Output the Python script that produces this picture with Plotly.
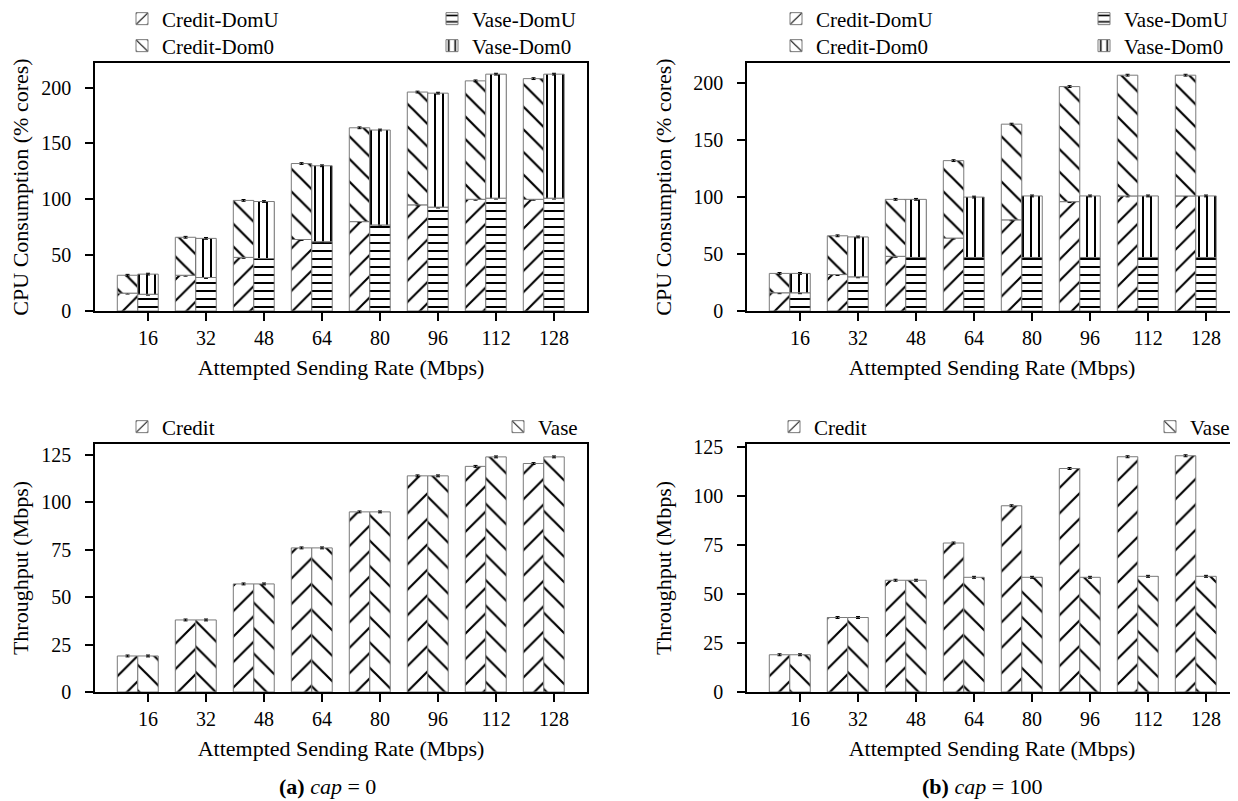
import plotly.graph_objects as go

W, H = 1238, 801
PAGE_OFF = 8  # the browser page adds an 8 px body margin around the figure

rates = ["16", "32", "48", "64", "80", "96", "112", "128"]

# (a) cap = 0 : CPU consumption (% cores)
cpu0_credit_domu = [16, 32, 48, 64, 80, 95, 100, 100]
cpu0_credit_dom0 = [16, 34, 51, 68, 84, 101, 106, 108]
cpu0_vase_domu = [15, 30, 47, 62, 77, 93, 101, 101]
cpu0_vase_dom0 = [18, 35, 51, 68, 85, 102, 111, 111]

# (b) cap = 100 : CPU consumption (% cores)
cpu100_credit_domu = [16, 32, 48, 64, 80, 96, 101, 101]
cpu100_credit_dom0 = [17, 34, 50, 68, 84, 101, 106, 106]
cpu100_vase_domu = [16, 30, 47, 47, 47, 47, 47, 47]
cpu100_vase_dom0 = [17, 35, 51, 53, 54, 54, 54, 54]

# Throughput (Mbps)
thr0_credit = [19, 38, 57, 76, 95, 114, 119, 120.5]
thr0_vase = [19, 38, 57, 76, 95, 114, 124, 124]
thr100_credit = [19, 38, 57, 76, 95, 114, 120, 120.5]
thr100_vase = [19, 38, 57, 58.5, 58.5, 58.5, 59, 59]

cpu_err = [0.8] * 8
thr_err = [0.5] * 8

cpu_ticks = [0, 50, 100, 150, 200]
thr_ticks = [0, 25, 50, 75, 100, 125]

FONT = "Liberation Serif"
FS = 20      # tick labels
FT = 22      # axis titles / captions
FL = 21      # legend


def px_x(p):
    return (p - PAGE_OFF) / W


def px_y(p):
    return 1 - (p - PAGE_OFF) / H


BW = 0.353  # bar width in category units
OFF_CREDIT = -1.5 * BW
OFF_VASE = -0.5 * BW


def bar(y, name, shape, size, sol, off, xa, ya, legend, base=None, err=None):
    return go.Bar(
        x=rates, y=y, base=base, name=name,
        offset=off, width=BW,
        xaxis=xa, yaxis=ya, legend=legend, showlegend=True,
        marker=dict(color="white", line=dict(color="#7a7a7a", width=1),
                    pattern=dict(shape=shape, size=size, solidity=sol,
                                 fgcolor="black", bgcolor="white", fillmode="replace")),
        error_y=dict(type="data", array=err, color="black", thickness=1, width=2,
                     visible=err is not None),
    )


fig = go.Figure()

panels = [
    ("x", "y", ("legend2", "legend3", "legend4", "legend5"),
     cpu0_credit_domu, cpu0_credit_dom0, cpu0_vase_domu, cpu0_vase_dom0),
    ("x2", "y2", ("legend6", "legend7", "legend8", "legend9"),
     cpu100_credit_domu, cpu100_credit_dom0, cpu100_vase_domu, cpu100_vase_dom0),
]
for xa, ya, lg, cdu, cd0, vdu, vd0 in panels:
    fig.add_trace(bar(cdu, "Credit-DomU", "/", 15, 0.14, OFF_CREDIT, xa, ya, lg[0], err=cpu_err))
    fig.add_trace(bar(cd0, "Credit-Dom0", "\\", 16, 0.14, OFF_CREDIT, xa, ya, lg[1], base=cdu, err=cpu_err))
    fig.add_trace(bar(vdu, "Vase-DomU", "-", 8, 0.25, OFF_VASE, xa, ya, lg[2], err=cpu_err))
    fig.add_trace(bar(vd0, "Vase-Dom0", "|", 8, 0.25, OFF_VASE, xa, ya, lg[3], base=vdu, err=cpu_err))

for xa, ya, lc, lv, c, v in [("x3", "y3", "legend10", "legend11", thr0_credit, thr0_vase),
                             ("x4", "y4", "legend12", "legend13", thr100_credit, thr100_vase)]:
    fig.add_trace(bar(c, "Credit", "/", 18, 0.12, OFF_CREDIT, xa, ya, lc, err=thr_err))
    fig.add_trace(bar(v, "Vase", "\\", 18, 0.12, OFF_VASE, xa, ya, lv, err=thr_err))

axis_common = dict(showline=True, mirror=True, linecolor="black", linewidth=1.5,
                   ticks="outside", ticklen=8, tickwidth=1.5, tickcolor="black",
                   showgrid=False, zeroline=False,
                   tickfont=dict(family=FONT, size=FS, color="black"))

xdom_l = [px_x(95), px_x(587)]
xdom_r = [px_x(747), px_x(1237)]
ydom_t = [px_y(311), px_y(63)]
ydom_b = [px_y(692), px_y(444)]


def xaxis(dom, rng, anchor):
    return dict(axis_common, type="category", domain=dom, range=rng, anchor=anchor,
                title=dict(text="Attempted Sending Rate (Mbps)",
                           font=dict(family=FONT, size=FT, color="black"), standoff=12))


def yaxis(dom, rng, ticks, anchor, title):
    return dict(axis_common, domain=dom, range=rng, tickvals=ticks, anchor=anchor,
                ticklabelstandoff=10,
                title=dict(text=title, font=dict(family=FONT, size=FT, color="black"), standoff=16))


def leg(text_x, row_y):
    return dict(font=dict(family=FONT, size=FL, color="black"), bgcolor="rgba(0,0,0,0)",
                orientation="v", xanchor="left", yanchor="middle", visible=True,
                x=px_x(text_x - 40), y=px_y(row_y), itemclick=False)


fig.update_layout(
    width=W, height=H,
    margin=dict(l=0, r=0, t=0, b=0, autoexpand=False),
    paper_bgcolor="white", plot_bgcolor="white",
    barmode="overlay", showlegend=True,
    font=dict(family=FONT, size=FS, color="black"),
    xaxis=xaxis(xdom_l, [-0.914, 7.569], "y"),
    yaxis=yaxis(ydom_t, [0, 222], cpu_ticks, "x", "CPU Consumption (% cores)"),
    xaxis2=xaxis(xdom_r, [-0.914, 7.534], "y2"),
    yaxis2=yaxis(ydom_t, [0, 217.7], cpu_ticks, "x2", "CPU Consumption (% cores)"),
    xaxis3=xaxis(xdom_l, [-0.914, 7.569], "y3"),
    yaxis3=yaxis(ydom_b, [0, 130.8], thr_ticks, "x3", "Throughput (Mbps)"),
    xaxis4=xaxis(xdom_r, [-0.914, 7.534], "y4"),
    yaxis4=yaxis(ydom_b, [0, 126.5], thr_ticks, "x4", "Throughput (Mbps)"),
    legend2=leg(162, 19),
    legend3=leg(162, 46),
    legend4=leg(472, 19),
    legend5=leg(472, 46),
    legend6=leg(816, 19),
    legend7=leg(816, 46),
    legend8=leg(1124, 19),
    legend9=leg(1124, 46),
    legend10=leg(162, 427),
    legend11=leg(538, 427),
    legend12=leg(814, 427),
    legend13=leg(1190, 427),
    annotations=[
        dict(text="<b>(a)</b> <i>cap</i> = 0", x=px_x(327), y=px_y(786), xref="paper", yref="paper",
             showarrow=False, font=dict(family=FONT, size=FT, color="black"), xanchor="center", yanchor="middle"),
        dict(text="<b>(b)</b> <i>cap</i> = 100", x=px_x(982), y=px_y(786), xref="paper", yref="paper",
             showarrow=False, font=dict(family=FONT, size=FT, color="black"), xanchor="center", yanchor="middle"),
    ],
)

fig.write_html("out.html")
